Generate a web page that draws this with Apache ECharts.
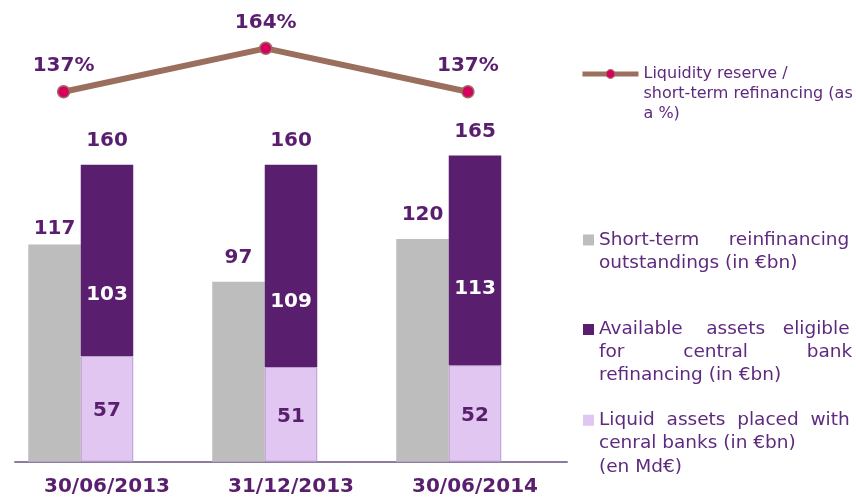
<!DOCTYPE html>
<html>
<head>
<meta charset="utf-8">
<script src="https://cdn.jsdelivr.net/npm/echarts@6/dist/echarts.min.js"></script>
<style>
  html, body { margin: 0; padding: 0; background: #fff; }
  #main { width: 856px; height: 497px; }
</style>
</head>
<body>
<div id="main"></div>
<script>
// data
var dates = ['30/06/2013', '31/12/2013', '30/06/2014'];
var shortTerm = [117, 97, 120];
var eligible = [103, 109, 113];
var placed = [57, 51, 52];
var ratio = [137, 164, 137];

var nameRatio = 'Liquidity reserve / short-term refinancing (as a %)';
var nameShort = 'Short-term reinfinancing outstandings (in €bn)';
var nameEligible = 'Available assets eligible for central bank refinancing (in €bn)';
var namePlaced = 'Liquid assets placed with cenral banks (in €bn) (en Md€)';

// legend text, spaces mimic the justified lines of the original
var legendText = {};
legendText[nameRatio] = 'Liquidity reserve /\nshort-term refinancing (as\na %)';
legendText[nameShort] = 'Short-term     reinfinancing\noutstandings (in €bn)';
legendText[nameEligible] = 'Available    assets   eligible\nfor          central          bank\nrefinancing (in €bn)';
legendText[namePlaced] = 'Liquid  assets  placed  with\ncenral banks (in €bn)\n(en Md€)';

var FONT = 'DejaVu Sans';
var PURPLE = '#5A1E6E';
var TEXT = '#5E2A7E';
var BROWN = '#9A6F5E';
var PINK = '#D6005F';

var valueLabel = {
  show: true,
  fontFamily: FONT,
  fontWeight: 'bold',
  fontSize: 20,
  color: PURPLE
};

// icon sits on the first line: pad the text with blank lines above
function firstLineFormatter(n) {
  var t = legendText[n];
  var lines = t.split('\n').length;
  return new Array(lines).join('\n') + t;
}

function legendBox(name, left, top, lh, size) {
  return {
    data: [name],
    left: left,
    top: top,
    padding: 0,
    orient: 'vertical',
    selectedMode: false,
    icon: 'rect',
    itemWidth: 11,
    itemHeight: 11,
    itemStyle: { borderWidth: 0 },
    formatter: firstLineFormatter,
    textStyle: {
      fontFamily: FONT,
      fontSize: size || 18.5,
      lineHeight: lh,
      color: TEXT
    }
  };
}

var chartDom = document.getElementById('main');
var myChart = echarts.init(chartDom);

var ratioLegend = legendBox(nameRatio, 580, 24, 20, 16);
delete ratioLegend.icon;
ratioLegend.itemStyle = { color: PINK, borderColor: BROWN, borderWidth: 1 };
ratioLegend.itemWidth = 56;
ratioLegend.itemHeight = 11;
ratioLegend.lineStyle = { color: BROWN, width: 5 };

var option = {
  animation: false,
  backgroundColor: '#fff',
  textStyle: { fontFamily: FONT },
  grid: [
    { left: 15, width: 552, top: 90.5, bottom: 35.3 },
    { left: 63.6, width: 404.3, top: 38.7, height: 96.4 }
  ],
  xAxis: [
    {
      type: 'category',
      gridIndex: 0,
      data: dates,
      axisLine: { lineStyle: { color: '#8E7BA0', width: 2 } },
      axisTick: { show: false },
      axisLabel: {
        interval: 0,
        margin: 15,
        color: PURPLE,
        fontFamily: FONT,
        fontWeight: 'bold',
        fontSize: 20
      }
    },
    { type: 'category', gridIndex: 1, data: dates, boundaryGap: false, show: false }
  ],
  yAxis: [
    { type: 'value', gridIndex: 0, min: 0, max: 200, show: false },
    { type: 'value', gridIndex: 1, min: 110, max: 170, show: false }
  ],
  legend: [
    ratioLegend,
    legendBox(nameShort, 583, 205, 23.3),
    legendBox(nameEligible, 583, 272, 23),
    legendBox(namePlaced, 583, 362, 23.3)
  ],
  series: [
    {
      name: nameShort,
      type: 'bar',
      xAxisIndex: 0,
      yAxisIndex: 0,
      barWidth: 52.5,
      barGap: '0%',
      data: shortTerm.map(function (v, i) {
        return { value: v, label: { distance: i === 0 ? 6 : 14 } };
      }),
      itemStyle: { color: '#BDBDBD' },
      label: Object.assign({ position: 'top' }, valueLabel)
    },
    {
      name: namePlaced,
      type: 'bar',
      stack: 'assets',
      barWidth: 52.5,
      barGap: '0%',
      data: placed,
      itemStyle: { color: '#E1C6F1', borderColor: '#B89CCB', borderWidth: 1 },
      label: Object.assign({ position: 'inside', offset: [0, 2] }, valueLabel)
    },
    {
      name: nameEligible,
      type: 'bar',
      stack: 'assets',
      barWidth: 52.5,
      barGap: '0%',
      data: eligible.map(function (v, i) {
        return { value: v, label: { offset: [0, [34, 36, 28][i]] } };
      }),
      itemStyle: { color: PURPLE },
      label: Object.assign({}, valueLabel, { position: 'inside', color: '#fff' })
    },
    {
      // totals above the stacked bars
      name: 'total',
      type: 'bar',
      stack: 'assets',
      barWidth: 52.5,
      barGap: '0%',
      silent: true,
      data: eligible.map(function () { return 0; }),
      itemStyle: { color: 'transparent' },
      label: Object.assign({
        position: 'top',
        distance: 14,
        formatter: function (p) { return placed[p.dataIndex] + eligible[p.dataIndex]; }
      }, valueLabel)
    },
    {
      // empty slot so the pair sits left of the category centre
      name: 'spacer',
      type: 'bar',
      stack: 'spacer',
      barWidth: 52.5,
      barGap: '0%',
      silent: true,
      data: shortTerm.map(function () { return 0; }),
      itemStyle: { color: 'transparent' }
    },
    {
      name: nameRatio,
      type: 'line',
      xAxisIndex: 1,
      yAxisIndex: 1,
      data: ratio,
      symbol: 'circle',
      symbolSize: 12,
      lineStyle: { color: BROWN, width: 6 },
      itemStyle: { color: PINK, borderColor: BROWN, borderWidth: 1.5 },
      label: Object.assign({ position: 'top', distance: 9, formatter: '{c}%' }, valueLabel),
      z: 5
    }
  ]
};

option && myChart.setOption(option);
</script>
</body>
</html>
